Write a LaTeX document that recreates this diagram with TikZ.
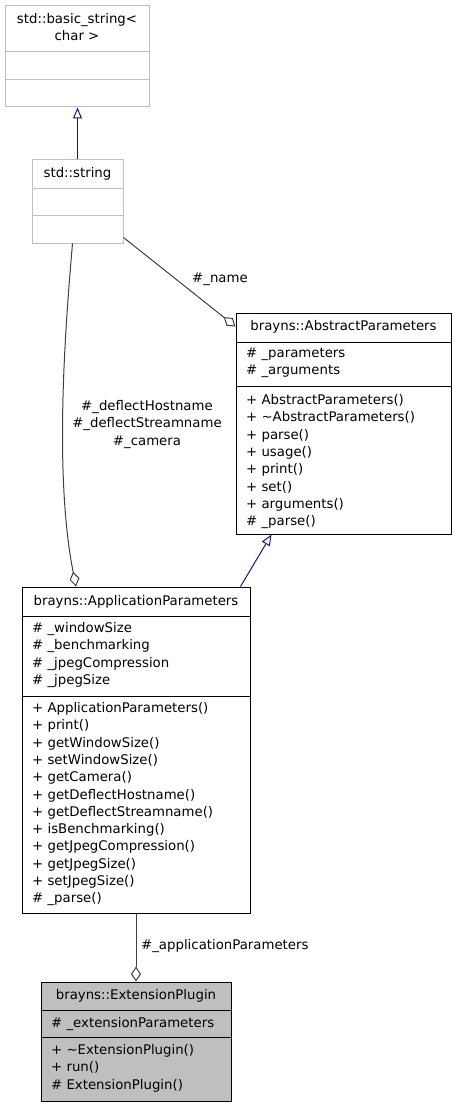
\documentclass[tikz,border=0pt]{standalone}
\usepackage{fontspec}
\setmainfont{DejaVu Sans}
\usetikzlibrary{arrows.meta,calc}
\definecolor{navy}{HTML}{191970}
\definecolor{lgray}{HTML}{BFBFBF}
\definecolor{aggc}{HTML}{404040}
\tikzset{
  clsbox/.style={draw=black, line width=1pt, rectangle, inner sep=0pt, fill=white},
  extbox/.style={draw=lgray, line width=1pt, rectangle, inner sep=0pt, fill=white},
  curbox/.style={draw=black, line width=1pt, rectangle, inner sep=0pt, fill=lgray},
  sepline/.style={line width=1pt},
  txt/.style={anchor=base west, inner sep=0pt, font=\fontsize{13.3}{16}\selectfont},
  ttl/.style={anchor=base, inner sep=0pt, font=\fontsize{13.3}{16}\selectfont},
  inh/.style={draw=navy, line width=1pt, -{Triangle[open,length=11pt,width=9pt]}},
  aggr/.style={draw=aggc, line width=1pt, -{Diamond[open,length=15pt,width=10pt]}},
}
\begin{document}
\begin{tikzpicture}[x=1pt,y=-1pt]
\useasboundingbox (0,0) rectangle (456,1107);

% ---------- std::basic_string< char >
\node[extbox, minimum width=144pt, minimum height=101pt] (bs) at (77,56.5) {};
\draw[draw=lgray, sepline] (bs.west |- 0,52) -- (bs.east |- 0,52);
\draw[draw=lgray, sepline] (bs.west |- 0,80) -- (bs.east |- 0,80);
\node[ttl] (bst1) at (77,24) {std::basic\_string<};
\node[ttl] (bst2) at (77,41) {char >};

% ---------- std::string
\node[extbox, minimum width=91pt, minimum height=83pt] (str) at (77.5,201.5) {};
\draw[draw=lgray, sepline] (str.west |- 0,189) -- (str.east |- 0,189);
\draw[draw=lgray, sepline] (str.west |- 0,216) -- (str.east |- 0,216);
\node[ttl] (strt) at (77.5,178) {std::string};

% ---------- brayns::AbstractParameters
\node[clsbox, minimum width=215pt, minimum height=221pt] (abs) at (343.5,423.5) {};
\draw[sepline] (abs.west |- 0,342) -- (abs.east |- 0,342);
\draw[sepline] (abs.west |- 0,386) -- (abs.east |- 0,386);
\node[ttl] (abst) at (343.5,330) {brayns::AbstractParameters};
\node[txt] (absa1) at (246,357.5) {\# \_parameters};
\node[txt] (absa2) at (246,374.8) {\# \_arguments};
\foreach \t [count=\i] in {+ AbstractParameters(), + \textasciitilde AbstractParameters(), + parse(), + usage(), + print(), + set(), + arguments(), \# \_parse()}
  \node[txt] (absm\i) at (246,{404.5+(\i-1)*17.3}) {\t};

% ---------- brayns::ApplicationParameters
\node[clsbox, minimum width=228pt, minimum height=326pt] (app) at (136,750) {};
\draw[sepline] (app.west |- 0,616) -- (app.east |- 0,616);
\draw[sepline] (app.west |- 0,696) -- (app.east |- 0,696);
\node[ttl] (appt) at (136,605.5) {brayns::ApplicationParameters};
\foreach \t [count=\i] in {\# \_windowSize, \# \_benchmarking, \# \_jpegCompression, \# \_jpegSize}
  \node[txt] (appa\i) at (32,{632.5+(\i-1)*17.3}) {\t};
\foreach \t [count=\i] in {+ ApplicationParameters(), + print(), + getWindowSize(), + setWindowSize(), + getCamera(), + getDeflectHostname(), + getDeflectStreamname(), + isBenchmarking(), + getJpegCompression(), + getJpegSize(), + setJpegSize(), \# \_parse()}
  \node[txt] (appm\i) at (32,{712.5+(\i-1)*17.3}) {\t};

% ---------- brayns::ExtensionPlugin
\node[curbox, minimum width=190pt, minimum height=119pt] (ext) at (136,1041.5) {};
\draw[sepline] (ext.west |- 0,1010) -- (ext.east |- 0,1010);
\draw[sepline] (ext.west |- 0,1037) -- (ext.east |- 0,1037);
\node[ttl] (extt) at (136,999.5) {brayns::ExtensionPlugin};
\node[txt] (exta1) at (51,1027.5) {\# \_extensionParameters};
\foreach \t [count=\i] in {+ \textasciitilde ExtensionPlugin(), + run(), \# ExtensionPlugin()}
  \node[txt] (extm\i) at (51,{1054.5+(\i-1)*17.3}) {\t};

% ---------- connectors
\draw[inh] (str.north) -- (str.north |- bs.south);
\draw[inh] ([xshift=-10pt]app.north east) -- ([xshift=36pt]abs.south west);
\draw[aggr] ([yshift=6pt]str.south east) -- ([yshift=-14pt]abs.north west);
\node[ttl] (lname) at (220,282.5) {\#\_name};
\draw[aggr] ([xshift=-5pt]str.south) .. controls (65,330) and (54,475) .. ([xshift=-60pt]app.north);
\node[ttl] (ldefl) at (147,410) {\#\_deflectHostname};
\node[ttl] (ldefs) at (147,427.5) {\#\_deflectStreamname};
\node[ttl] (lcam) at (147,445) {\#\_camera};
\draw[aggr] (app.south) -- (app.south |- ext.north);
\node[txt] (lapp) at (141,949.5) {\#\_applicationParameters};
\end{tikzpicture}
\end{document}
